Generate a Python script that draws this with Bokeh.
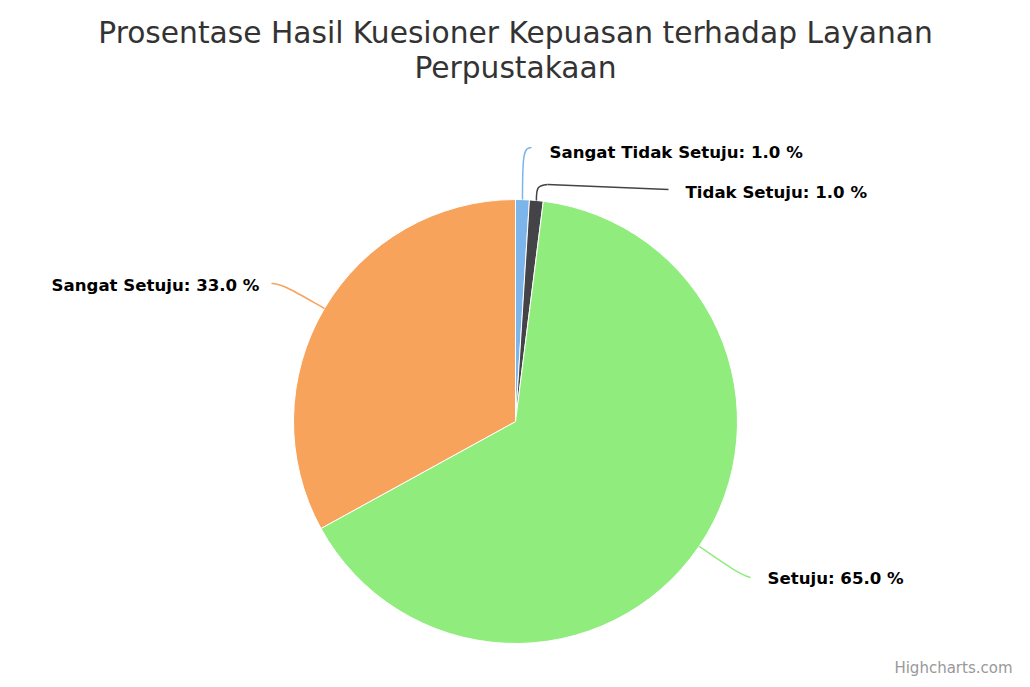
import numpy as np
from bokeh.plotting import figure
from bokeh.models import Range1d
from bokeh.core.properties import value
from bokeh.embed import file_html
from bokeh.resources import INLINE

# ---- data ----
categories = ["Sangat Tidak Setuju", "Tidak Setuju", "Setuju", "Sangat Setuju"]
percentages = [1.0, 1.0, 65.0, 33.0]
colors = ["#7cb5ec", "#434348", "#90ed7d", "#f7a35c"]
title_lines = ["Prosentase Hasil Kuesioner Kepuasan terhadap Layanan", "Perpustakaan"]
credit_text = "Highcharts.com"

# ---- layout (screen-like coordinates: x right, y measured from picture top) ----
PAGE_H = 687
W, H = 1022, 679


def sy(y):
    return PAGE_H - y


p = figure(width=W, height=H, x_range=Range1d(0, W), y_range=Range1d(PAGE_H - H, PAGE_H),
           output_backend="svg", toolbar_location=None, x_axis_type=None, y_axis_type=None,
           min_border=0, min_border_left=0, min_border_right=0, min_border_top=0, min_border_bottom=0)
p.grid.visible = False
p.outline_line_color = None
p.background_fill_color = "white"
p.border_fill_color = "white"

# pie geometry
cx, cy, R = 515, sy(421), 222
vals = np.array(percentages)
cum = np.concatenate([[0], np.cumsum(vals)]) / vals.sum()
start = np.pi / 2 - 2 * np.pi * cum[:-1]
end = np.pi / 2 - 2 * np.pi * cum[1:]
p.wedge(x=cx, y=cy, radius=R, start_angle=start, end_angle=end, direction="clock",
        fill_color=colors, line_color="white", line_width=1)

# connectors: anchor on slice edge computed from data
mid = 2 * np.pi * (cum[:-1] + cum[1:]) / 2  # clockwise from top
ax = cx + R * np.sin(mid)
ay = cy + R * np.cos(mid)

# per-label layout: text pos, align, connector control points/ends (screen coords)
label_layout = [
    dict(tx=549, ty=152, align="left", c0=(0, -45), c1=(1, -52), end=(531, 147), tail=None),
    dict(tx=685, ty=192, align="left", c0=(0, -13), c1=(1, -15), end=(547, 184), tail=(668, 189)),
    dict(tx=767, ty=578, align="left", c0=(26, 18), c1=(40, 28), end=(750, 577), tail=None),
    dict(tx=259, ty=285, align="right", c0=(-28, -16), c1=(-42, -25), end=(271, 283), tail=None),
]

for i, lay in enumerate(label_layout):
    x0, y0 = ax[i], ay[i]
    ex, ey = lay["end"][0], sy(lay["end"][1])
    p.bezier(x0=x0, y0=y0, x1=ex, y1=ey,
             cx0=x0 + lay["c0"][0], cy0=y0 - lay["c0"][1],
             cx1=x0 + lay["c1"][0], cy1=y0 - lay["c1"][1],
             line_color=colors[i], line_width=1.5)
    if lay["tail"] is not None:
        p.segment(x0=ex, y0=ey, x1=lay["tail"][0], y1=sy(lay["tail"][1]),
                  line_color=colors[i], line_width=1.5)
    txt = f"{categories[i]}: {percentages[i]:.1f} %"
    p.text(x=[lay["tx"]], y=[sy(lay["ty"])], text=[txt], text_align=lay["align"],
           text_baseline="middle", text_font=value("DejaVu Sans"), text_font_style="bold",
           text_font_size="16.6px", text_color="#000000")

# title
p.text(x=[515, 515], y=[sy(32), sy(67)], text=title_lines, text_align="center",
       text_baseline="middle", text_font=value("DejaVu Sans"), text_font_size="29.7px",
       text_color="#333333")

# credits
p.text(x=[1012], y=[sy(667)], text=[credit_text], text_align="right", text_baseline="middle",
       text_font=value("DejaVu Sans"), text_font_size="15px", text_color="#999999")

open("out.html", "w").write(file_html(p, INLINE))
